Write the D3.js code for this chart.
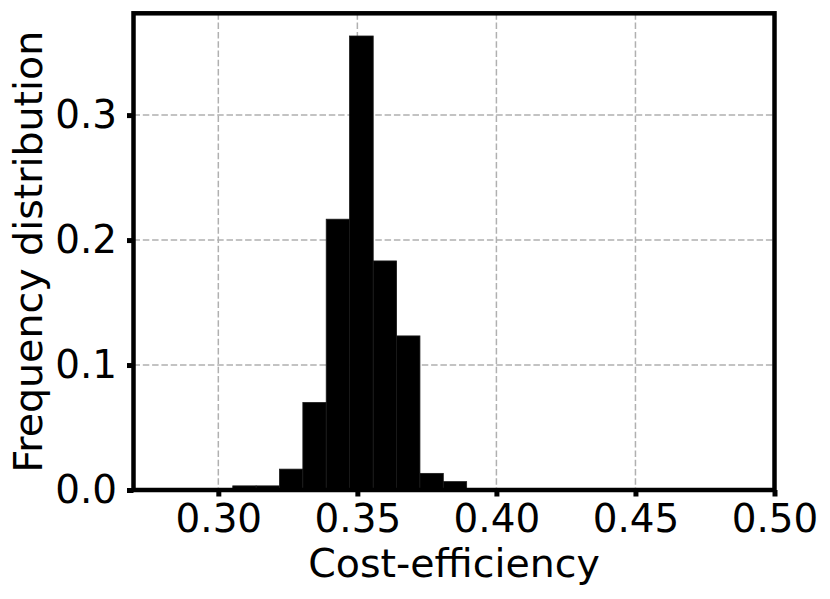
<!DOCTYPE html>
<html>
<head>
<meta charset="utf-8">
<script src="https://cdn.jsdelivr.net/npm/d3@7"></script>
<style>
  html, body { margin: 0; padding: 0; background: #fff; }
  svg { display: block; }
  text { font-family: "DejaVu Sans", sans-serif; fill: #000; }
</style>
</head>
<body>
<svg id="chart" width="830" height="599"></svg>
<script>
// ---- data ----
const binEdges = [0.3052, 0.3136, 0.3220, 0.3304, 0.3388, 0.3472, 0.3557, 0.3641, 0.3725, 0.3809, 0.3893];
const frequencies = [0.0033, 0.0033, 0.0167, 0.0700, 0.2167, 0.3633, 0.1833, 0.1233, 0.0133, 0.0067];
const xTicks = [0.30, 0.35, 0.40, 0.45, 0.50];
const yTicks = [0.0, 0.1, 0.2, 0.3];
const xLabel = "Cost-efficiency";
const yLabel = "Frequency distribution";

(function () {
  // ---- layout ----
  const plotL = 133.5, plotT = 13.3, plotR = 774.5, plotB = 490;
  const tickFont = 38.9, labelFont = 39.5;

  const svg = d3.select("#chart");

  const x = d3.scaleLinear().domain([0.2695, 0.50]).range([plotL, plotR]);
  const y = d3.scaleLinear().domain([0, d3.max(frequencies) * 1.05]).range([plotB, plotT]);

  const bins = frequencies.map((f, i) => ({ x0: binEdges[i], x1: binEdges[i + 1], f }));

  // grid
  const grid = svg.append("g");
  grid.selectAll("line.vx").data(xTicks).join("line")
    .attr("x1", d => x(d)).attr("x2", d => x(d))
    .attr("y1", plotT).attr("y2", plotB)
    .attr("stroke", "#b0b0b0").attr("stroke-width", 1.5)
    .attr("stroke-dasharray", "6.5,2.8");
  grid.selectAll("line.hy").data(yTicks).join("line")
    .attr("x1", plotL).attr("x2", plotR)
    .attr("y1", d => y(d)).attr("y2", d => y(d))
    .attr("stroke", "#b0b0b0").attr("stroke-width", 1.5)
    .attr("stroke-dasharray", "6.5,2.8");

  // bars
  svg.append("g").selectAll("rect").data(bins).join("rect")
    .attr("x", d => x(d.x0))
    .attr("width", d => x(d.x1) - x(d.x0))
    .attr("y", d => y(d.f))
    .attr("height", d => y(0) - y(d.f))
    .attr("fill", "#000")
    .attr("stroke", "#1a1a1a")
    .attr("stroke-width", 0.8);

  // axes
  const xAxis = d3.axisBottom(x).tickValues(xTicks).tickFormat(d3.format(".2f"))
    .tickSize(6.5).tickPadding(8);
  const yAxis = d3.axisLeft(y).tickValues(yTicks).tickFormat(d3.format(".1f"))
    .tickSize(6.5).tickPadding(10);

  const gx = svg.append("g").attr("transform", `translate(0,${plotB})`).call(xAxis);
  const gy = svg.append("g").attr("transform", `translate(${plotL},0)`).call(yAxis);

  [gx, gy].forEach(g => {
    g.select(".domain").remove();
    g.selectAll(".tick line").attr("stroke", "#000").attr("stroke-width", 5);
    g.selectAll(".tick text")
      .style("font-family", "'DejaVu Sans', sans-serif")
      .style("font-size", tickFont + "px")
      .attr("fill", "#000");
  });

  // spines
  svg.append("rect")
    .attr("x", plotL).attr("y", plotT)
    .attr("width", plotR - plotL).attr("height", plotB - plotT)
    .attr("fill", "none").attr("stroke", "#000").attr("stroke-width", 4.5);

  // labels
  svg.append("text")
    .attr("x", (plotL + plotR) / 2).attr("y", 577)
    .attr("text-anchor", "middle")
    .style("font-size", labelFont + "px")
    .text(xLabel);

  svg.append("text")
    .attr("transform", `translate(42,${(plotT + plotB) / 2}) rotate(-90)`)
    .attr("text-anchor", "middle")
    .style("font-size", labelFont + "px")
    .text(yLabel);
})();
</script>
</body>
</html>
